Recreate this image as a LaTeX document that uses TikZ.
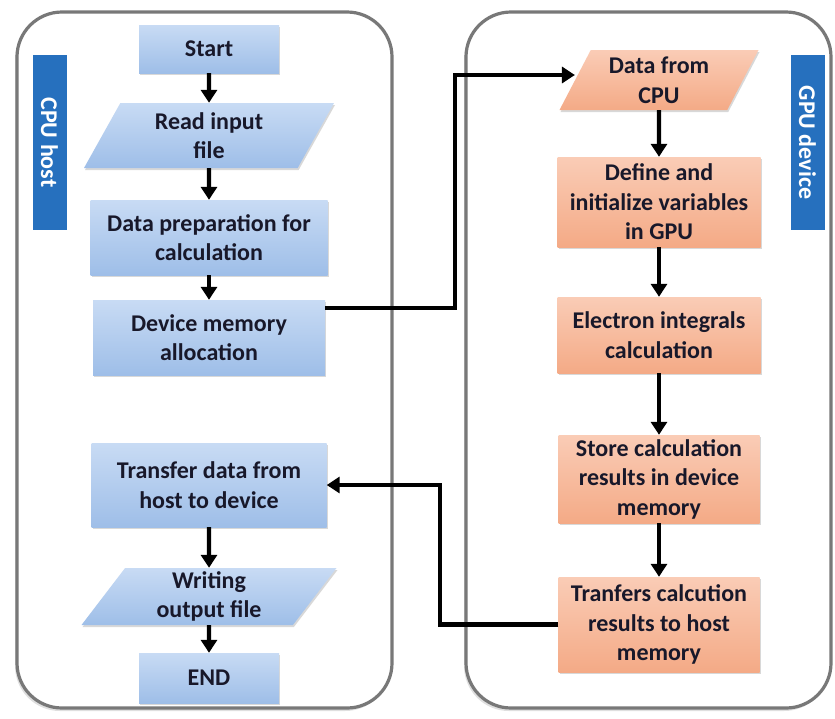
\documentclass[tikz,border=0pt]{standalone}
\usepackage{fontspec}
\setmainfont{Carlito}
\usetikzlibrary{arrows.meta,shapes.geometric,shadows,backgrounds}

\definecolor{boxblue}{RGB}{158,190,232}
\definecolor{boxbluetop}{RGB}{200,219,244}
\definecolor{boxorange}{RGB}{244,170,134}
\definecolor{boxorangetop}{RGB}{250,204,182}
\definecolor{labelblue}{RGB}{38,112,190}
\definecolor{framegray}{RGB}{120,120,120}
\definecolor{ink}{RGB}{24,24,42}

\tikzset{
  panel/.style={draw=framegray, line width=3.2pt, rounded corners=45pt, fill=white,
    drop shadow={shadow xshift=-2pt, shadow yshift=-3pt, opacity=0.25}},
  boxtext/.style={text=ink, font=\bfseries\fontsize{24}{29.5}\selectfont, align=center, inner sep=0pt},
  boxshade/.style={drop shadow={shadow xshift=1pt, shadow yshift=-2pt, opacity=0.3}},
  cpubox/.style={rectangle, boxtext, boxshade, top color=boxbluetop, bottom color=boxblue},
  gpubox/.style={rectangle, boxtext, boxshade, top color=boxorangetop, bottom color=boxorange},
  iobox/.style={trapezium, trapezium stretches body, boxtext, boxshade},
  sidelabel/.style={rectangle, fill=labelblue, text=white, rotate=-90, inner sep=0pt,
    font=\bfseries\fontsize{24}{26}\selectfont, minimum width=175pt, minimum height=34pt},
  flow/.style={-{Triangle[length=13pt,width=16pt]}, line width=4.3pt, black}
}

\begin{document}
\begin{tikzpicture}[x=1pt,y=-1pt]
  \fill[white] (0,0) rectangle (835,718);
  \useasboundingbox (0,0) rectangle (835,718);

  % the two swim-lane panels
  \draw[panel] (17,12) rectangle (392,708);
  \draw[panel] (466,12) rectangle (831,708);

  \node[sidelabel] (cpulabel) at (49.5,142.5) {CPU host};
  \node[sidelabel] (gpulabel) at (807.5,142.5) {GPU device};

  % host side
  \node[cpubox, minimum width=140pt, minimum height=48pt] (start) at (209,49) {Start};
  \node[iobox, top color=boxbluetop, bottom color=boxblue,
        trapezium left angle=52, trapezium right angle=128,
        minimum width=250pt, minimum height=65pt] (read) at (209,135.5) {Read input\\file};
  \node[cpubox, minimum width=237pt, minimum height=75pt] (prep) at (209,237.5) {Data preparation for\\calculation};
  \node[cpubox, minimum width=232pt, minimum height=75pt] (devmem) at (209,337.5) {Device memory\\allocation};
  \node[cpubox, minimum width=235pt, minimum height=84pt] (transfer) at (209,485) {Transfer data from\\host to device};
  \node[iobox, top color=boxbluetop, bottom color=boxblue,
        trapezium left angle=49, trapezium right angle=131,
        minimum width=255pt, minimum height=57pt] (write) at (209,596.5) {Writing\\output file};
  \node[cpubox, minimum width=140pt, minimum height=50pt] (finish) at (209,678) {END};

  % device side
  \node[iobox, top color=boxorangetop, bottom color=boxorange,
        trapezium left angle=56, trapezium right angle=124,
        minimum width=199pt, minimum height=60pt] (fromcpu) at (659,80) {Data from\\CPU};
  \node[gpubox, minimum width=203pt, minimum height=90pt] (define) at (659,202) {Define and\\initialize variables\\in GPU};
  \node[gpubox, minimum width=203pt, minimum height=76pt] (integrals) at (659,335) {Electron integrals\\calculation};
  \node[gpubox, minimum width=201pt, minimum height=88pt] (store) at (659,479) {Store calculation\\results in device\\memory};
  \node[gpubox, minimum width=201pt, minimum height=95pt] (back) at (659,624.5) {Tranfers calcution\\results to host\\memory};

  % bend points and ends of the two cross-lane connectors
  \coordinate (fwd) at (455,0);
  \coordinate (ret) at (440,0);
  \coordinate (cpuin) at ([yshift=5pt]fromcpu.west);
  \coordinate (memout) at ([yshift=29.5pt]devmem.east);

  % host flow
  \draw[flow] (start) -- (read);
  \draw[flow] (read) -- (prep);
  \draw[flow] (prep) -- (devmem);
  \draw[flow] (transfer) -- (write);
  \draw[flow] (write) -- (finish);

  % device flow
  \draw[flow] (fromcpu) -- (define);
  \draw[flow] (define) -- (integrals);
  \draw[flow] (integrals) -- (store);
  \draw[flow] (store) -- (back);

  % lane crossings
  \draw[flow] (memout) -| (fwd |- cpuin) -- (cpuin);
  \draw[flow] (back.west) -| (ret |- transfer.east) -- (transfer.east);
\end{tikzpicture}
\end{document}
